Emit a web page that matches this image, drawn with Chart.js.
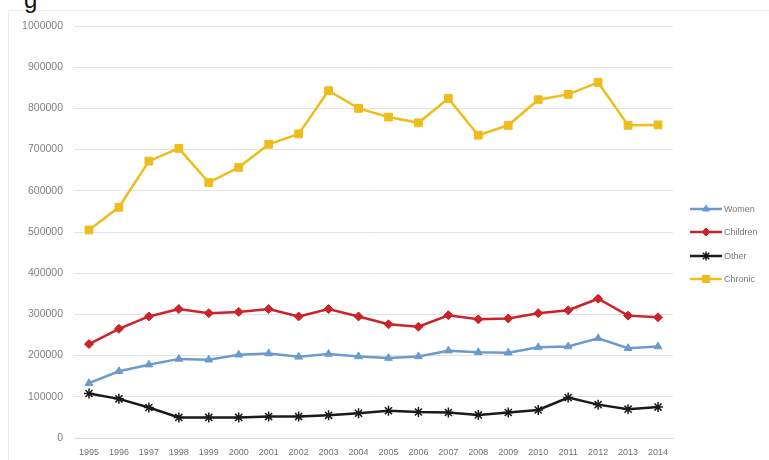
<!DOCTYPE html>
<html>
<head>
<meta charset="utf-8">
<script src="https://cdn.jsdelivr.net/npm/chart.js@4"></script>
<style>
  html, body { margin: 0; padding: 0; background: #fff; }
  #wrap { position: relative; width: 769px; height: 460px; overflow: hidden; }
  #frame { position: absolute; left: 8px; top: 10px; width: 790px; height: 470px;
           border: 1px solid #ececec; box-sizing: border-box; }
  #cut { position: absolute; left: 24px; top: -14px; font: 24px "Liberation Sans", Arial, sans-serif; color: #111; }
  canvas { position: absolute; left: 0; top: 0; }
  #legend { position: absolute; left: 690px; top: 197px; font: 9px "Liberation Sans", Arial, sans-serif; color: #777; }
  #legend .row { height: 23.5px; display: flex; align-items: center; }
  #legend canvas { position: static; margin-right: 2px; }
</style>
</head>
<body>
<div id="wrap">
  <div id="frame"></div>
  <div id="cut">g</div>
  <canvas id="chart" width="769" height="460"></canvas>
  <div id="legend"></div>
</div>
<script>
/* ---------- data ---------- */
const years = ["1995","1996","1997","1998","1999","2000","2001","2002","2003","2004",
               "2005","2006","2007","2008","2009","2010","2011","2012","2013","2014"];

const women    = [133000,162000,178000,192000,190000,202000,205000,197000,204000,198000,
                  194000,198000,212000,208000,207000,220000,222000,242000,218000,222000];
const children = [228000,265000,295000,313000,303000,306000,313000,295000,313000,295000,
                  276000,270000,298000,288000,290000,303000,310000,338000,297000,293000];
const other    = [108000,95000,74000,50000,50000,50000,52000,52000,55000,60000,
                  66000,63000,62000,56000,62000,68000,98000,81000,70000,75000];
const chronic  = [505000,560000,672000,703000,620000,657000,713000,738000,843000,800000,
                  779000,765000,824000,735000,759000,821000,834000,863000,759000,760000];

const yTicks = [0,100000,200000,300000,400000,500000,600000,700000,800000,900000,1000000];

/* ---------- helpers ---------- */
function series(label, data, color, style, radius) {
  return {
    label, data,
    borderColor: color,
    backgroundColor: color,
    borderWidth: 2.5,
    pointStyle: style,
    pointRadius: radius,
    pointHoverRadius: radius,
    pointBorderWidth: style === "star" ? 1.5 : 1,
    tension: 0
  };
}

const datasets = [
  series("Women", women, "#6a9bcb", "triangle", 4.5),
  series("Children", children, "#cc2229", "rectRot", 4.5),
  series("Other", other, "#1a1a1a", "star", 5),
  series("Chronic", chronic, "#eebd1c", "rect", 5.5)
];

const xFont = { family: "'Liberation Sans', Arial, sans-serif", size: 9 };
const yFont = { family: "'Liberation Sans', Arial, sans-serif", size: 10.5 };

new Chart(document.getElementById("chart"), {
  type: "line",
  data: { labels: years, datasets },
  options: {
    responsive: false,
    animation: false,
    layout: { padding: { left: 0, right: 96, top: 26, bottom: 0 } },
    plugins: { legend: { display: false }, tooltip: { enabled: false } },
    scales: {
      x: {
        offset: true,
        grid: { display: false },
        border: { color: "#d9d9d9" },
        ticks: { color: "#707070", font: xFont, maxRotation: 0, autoSkip: false, padding: 1 },
        afterFit: s => { s.height = 22; }
      },
      y: {
        min: 0, max: 1000000,
        afterBuildTicks: s => { s.ticks = yTicks.map(v => ({ value: v })); },
        grid: { color: "#e4e4e4", lineWidth: 1, drawTicks: false },
        border: { display: false },
        ticks: { color: "#808080", font: yFont, padding: 11, callback: v => String(v) },
        afterFit: s => { s.width = 74; }
      }
    }
  }
});

/* ---------- legend (right side) ---------- */
const legend = document.getElementById("legend");
datasets.forEach(ds => {
  const row = document.createElement("div");
  row.className = "row";
  const c = document.createElement("canvas");
  c.width = 32; c.height = 12;
  const g = c.getContext("2d");
  g.strokeStyle = ds.borderColor; g.lineWidth = 2.5;
  g.beginPath(); g.moveTo(0, 6); g.lineTo(32, 6); g.stroke();
  g.fillStyle = ds.backgroundColor;
  g.lineWidth = ds.pointBorderWidth;
  Chart.helpers.drawPoint(g, {
    pointStyle: ds.pointStyle, radius: ds.pointRadius - 0.5, borderWidth: ds.pointBorderWidth
  }, 16, 6);
  row.appendChild(c);
  const t = document.createElement("span");
  t.textContent = ds.label;
  row.appendChild(t);
  legend.appendChild(row);
});
</script>
</body>
</html>
